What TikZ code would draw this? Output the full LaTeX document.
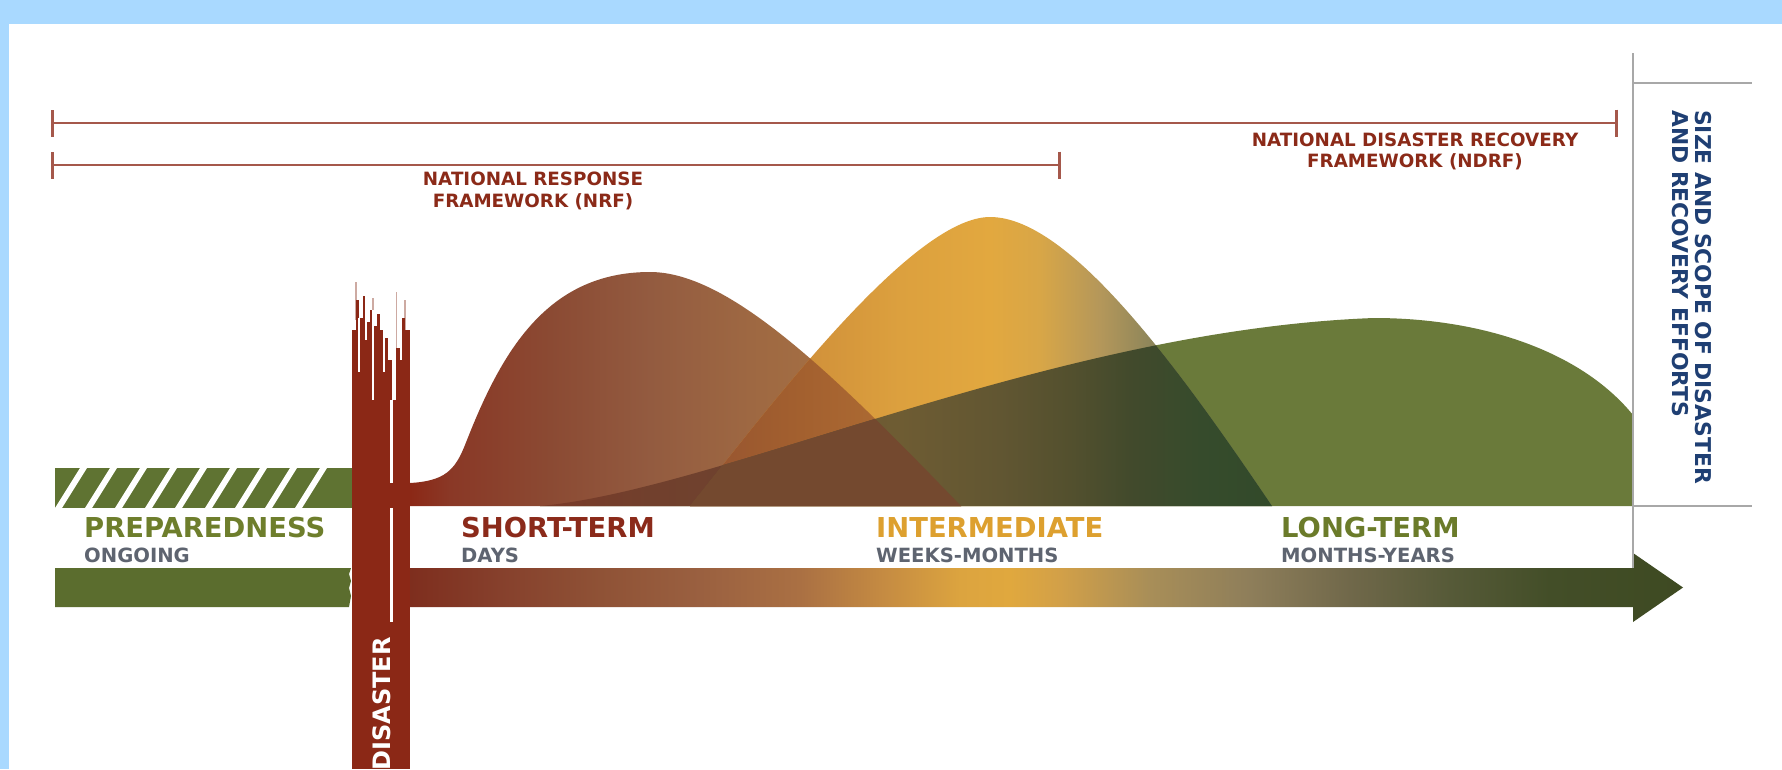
\documentclass[tikz,border=0pt]{standalone}
\usepackage{fontspec}
\newfontfamily\dv{DejaVu Sans}
\usetikzlibrary{arrows.meta}

\definecolor{skyb}{HTML}{A9D9FF}
\definecolor{brk}{HTML}{A5584B}
\definecolor{brtext}{HTML}{8B2A18}
\definecolor{sizeblue}{HTML}{1F3F73}
\definecolor{gline}{HTML}{A8A8A8}
\definecolor{prepgreen}{HTML}{6E7E2C}
\definecolor{hatchgreen}{HTML}{5F7332}
\definecolor{bargreen}{HTML}{5B6D2E}
\definecolor{disred}{HTML}{8B2816}
\definecolor{shortred}{HTML}{8B2A1A}
\definecolor{intgold}{HTML}{DDA02F}
\definecolor{longgreen}{HTML}{6B7B2A}
\definecolor{subgray}{HTML}{5E6470}
\definecolor{ggreen}{HTML}{6A7A3A}
\definecolor{pinkline}{HTML}{CDAAA2}
\definecolor{syg}{HTML}{74492F}
% arrow colours
\definecolor{ar0}{HTML}{7A2A1C}\definecolor{ar1}{HTML}{7E2E1E}
\definecolor{ar2}{HTML}{86402C}\definecolor{ar3}{HTML}{8F5236}
\definecolor{ar4}{HTML}{9A6040}\definecolor{ar5}{HTML}{AA7043}
\definecolor{ar6}{HTML}{C48A42}\definecolor{ar7}{HTML}{DCA43F}
\definecolor{ar8}{HTML}{E0A83E}\definecolor{ar9}{HTML}{D2A048}
\definecolor{ar10}{HTML}{A88E58}\definecolor{ar11}{HTML}{8E7E5A}
\definecolor{ar12}{HTML}{70684A}\definecolor{ar13}{HTML}{565A38}
\definecolor{ar14}{HTML}{434E28}\definecolor{ar15}{HTML}{3E4A22}
% short-term colours
\definecolor{s0}{HTML}{8B2816}\definecolor{s1}{HTML}{8A3826}
\definecolor{s2}{HTML}{8B4A33}\definecolor{s3}{HTML}{935B40}
\definecolor{s4}{HTML}{9E6842}\definecolor{s5}{HTML}{A97444}
\definecolor{s6}{HTML}{AC7848}
% intermediate colours
\definecolor{y0}{HTML}{C07A36}\definecolor{y1}{HTML}{D0903A}
\definecolor{y2}{HTML}{DCA03E}\definecolor{y3}{HTML}{E2A83F}
\definecolor{y4}{HTML}{D8A647}\definecolor{y5}{HTML}{B4975A}
\definecolor{y6}{HTML}{8E865A}\definecolor{y7}{HTML}{7C7A55}
% overlaps
\definecolor{sy0}{HTML}{955330}\definecolor{sy1}{HTML}{A3602F}
\definecolor{sy2}{HTML}{AE6C33}\definecolor{sy3}{HTML}{B37236}
\definecolor{sg0}{HTML}{7A3A28}\definecolor{sg1}{HTML}{71402D}
\definecolor{sg2}{HTML}{6D432F}\definecolor{sg3}{HTML}{714A32}
\definecolor{yg0}{HTML}{70542F}\definecolor{yg1}{HTML}{6E5C33}
\definecolor{yg2}{HTML}{615632}\definecolor{yg3}{HTML}{53502E}
\definecolor{yg4}{HTML}{424A2C}\definecolor{yg5}{HTML}{364B2C}
\definecolor{yg6}{HTML}{324A2A}

\pgfdeclarehorizontalshading{arrowsh}{100bp}{color(0bp)=(ar0); color(25bp)=(ar0); color(27.18bp)=(ar1); color(30.56bp)=(ar2); color(34.32bp)=(ar3); color(38.07bp)=(ar4); color(41.83bp)=(ar5); color(44.84bp)=(ar6); color(47.84bp)=(ar7); color(49.72bp)=(ar8); color(51.6bp)=(ar9); color(54.98bp)=(ar10); color(58.73bp)=(ar11); color(62.49bp)=(ar12); color(66.25bp)=(ar13); color(70bp)=(ar14); color(75bp)=(ar15); color(100bp)=(ar15)}
\pgfdeclarehorizontalshading{ssh}{100bp}{color(0bp)=(s0); color(25bp)=(s0); color(28.63bp)=(s1); color(37.7bp)=(s2); color(46.78bp)=(s3); color(55.85bp)=(s4); color(67.65bp)=(s5); color(75bp)=(s6); color(100bp)=(s6)}
\pgfdeclarehorizontalshading{ysh}{100bp}{color(0bp)=(y0); color(25bp)=(y0); color(34.45bp)=(y1); color(43.04bp)=(y2); color(50.77bp)=(y3); color(55.07bp)=(y4); color(60.22bp)=(y5); color(64.52bp)=(y6); color(75bp)=(y7); color(100bp)=(y7)}
\pgfdeclarehorizontalshading{sysh}{100bp}{color(0bp)=(sy0); color(25bp)=(sy0); color(34.45bp)=(sy1); color(43.04bp)=(sy2); color(48.28bp)=(sy3); color(100bp)=(sy3)}
\pgfdeclarehorizontalshading{sgsh}{100bp}{color(0bp)=(sg0); color(36.8bp)=(sg0); color(46.78bp)=(sg1); color(60.39bp)=(sg2); color(75bp)=(sg3); color(100bp)=(sg3)}
\pgfdeclarehorizontalshading{ygsh}{100bp}{color(0bp)=(yg0); color(25bp)=(yg0); color(43.04bp)=(yg1); color(51.63bp)=(yg2); color(57.65bp)=(yg3); color(62.8bp)=(yg4); color(68.81bp)=(yg5); color(75bp)=(yg6); color(100bp)=(yg6)}

\tikzset{
  lbl/.style={inner sep=0pt, anchor=base west, font=\dv\bfseries\fontsize{27.4}{30}\selectfont},
  sublbl/.style={inner sep=0pt, anchor=base west, text=subgray, font=\dv\bfseries\fontsize{19.6}{22}\selectfont},
  fw/.style={inner sep=0pt, anchor=base, text=brtext, font=\dv\bfseries\fontsize{18.3}{22}\selectfont},
  sz/.style={inner sep=0pt, anchor=base west, rotate=-90, text=sizeblue, font=\dv\bfseries\fontsize{21.8}{26}\selectfont},
  distext/.style={inner sep=0pt, anchor=base east, rotate=90, text=white, font=\dv\bfseries\fontsize{24}{28}\selectfont},
  bracket/.style={draw=brk, line width=2.8pt, {Bar[width=27pt]}-{Bar[width=27pt]}},
  grayline/.style={draw=gline, line width=2pt},
  thinpink/.style={draw=pinkline, line width=1.2pt},
  fringe/.style={draw=white, line width=1.1pt},
  whiteline/.style={draw=white, line width=2.5pt}
}

\def\hillS{(410,483) .. controls (445,481) and (455,470) .. (465,445) .. controls (500,355) and (545,272) .. (650,272) .. controls (728,272) and (830,370) .. (961,506) -- (410,506) -- cycle}
\def\hillY{(690,506) .. controls (760,420) and (910,217) .. (990,217) .. controls (1070,217) and (1180,370) .. (1272,506) -- cycle}
\def\hillG{(540,506) .. controls (720,490) and (1050,330) .. (1374,318) .. controls (1480,318) and (1580,350) .. (1633,415) -- (1633,506) -- cycle}

\begin{document}
\begin{tikzpicture}[x=1pt,y=-1pt]
\useasboundingbox (0,0) rectangle (1782,769);
\fill[white] (0,0) rectangle (1782,769);
\fill[skyb] (0,0) rectangle (1782,24);
\fill[skyb] (0,0) rectangle (9,769);

% framework brackets
\coordinate (ndrfL) at (51,123);
\coordinate (ndrfR) at (1618,123);
\coordinate (nrfL) at (51,165);
\coordinate (nrfR) at (1061,165);
\draw[bracket] (ndrfL) -- (ndrfR);
\draw[bracket] (nrfL) -- (nrfR);
\node[fw] (nrfA) at (533,185) {NATIONAL RESPONSE};
\node[fw] (nrfB) at (533,207) {FRAMEWORK (NRF)};
\node[fw] (ndrfA) at (1415,146) {NATIONAL DISASTER RECOVERY};
\node[fw] (ndrfB) at (1415,167) {FRAMEWORK (NDRF)};

% hills
\fill[ggreen] \hillG;
\shade[shading=ssh] \hillS;
\shade[shading=ysh] \hillY;
\begin{scope}
  \clip \hillS;
  \shade[shading=sysh] \hillY;
\end{scope}
\begin{scope}
  \clip \hillG;
  \shade[shading=sgsh] \hillS;
\end{scope}
\begin{scope}
  \clip \hillG;
  \shade[shading=ygsh] \hillY;
\end{scope}
\begin{scope}
  \clip \hillG;
  \clip \hillS;
  \fill[syg] \hillY;
\end{scope}

% preparedness hatched bar
\fill[hatchgreen] (55,468) rectangle (352,508);
\foreach \k in {0,...,8} {
  \fill[white] ({55+30*\k},508) -- ({62+30*\k},508) -- ({87+30*\k},468) -- ({80+30*\k},468) -- cycle;
}
% preparedness bar
\fill[bargreen] (55,568) -- (351,568) -- (349,574) -- (351,581) -- (349,588) -- (351,596) -- (349,607) -- (55,607) -- cycle;

% recovery arrow
\shade[shading=arrowsh] (352,568) -- (1633,568) -- (1633,553) -- (1683,587.5) -- (1633,622) -- (1633,607) -- (352,607) -- cycle;

% disaster column
\draw[thinpink] (356,282) -- (356,320);
\draw[thinpink] (373,298) -- (373,330);
\draw[thinpink] (396.5,292) -- (396.5,400);
\draw[thinpink] (405,300) -- (405,340);
\foreach \a/\b/\t in {352/356/330, 356/359/300, 359/363/318, 363/366/296, 366/370/322, 370/373/310, 373/377/326, 377/380/314, 380/384/330, 384/388/338, 388/392/360, 392/396/400, 396/401/348, 401/405/318, 405/410/330} {
  \fill[disred] (\a,\t) rectangle (\b,769);
}
\draw[fringe] (359,318) -- (359,372);
\draw[fringe] (366,296) -- (366,340);
\draw[fringe] (373,310) -- (373,400);
\draw[fringe] (384,330) -- (384,372);
\draw[fringe] (401,318) -- (401,360);
\draw[whiteline] (391.5,400) -- (391.5,483);
\draw[whiteline] (391.5,508) -- (391.5,622);
\node[distext] (dis) at (390,637) {DISASTER};

% size and scope frame
\coordinate (vtop) at (1633,53);
\coordinate (vbot) at (1633,568);
\coordinate (htl) at (1633,83);
\coordinate (htr) at (1752,83);
\coordinate (hbl) at (1633,506);
\coordinate (hbr) at (1752,506);
\draw[grayline] (vtop) -- (vbot);
\draw[grayline] (htl) -- (htr);
\draw[grayline] (hbl) -- (hbr);
\node[sz] (szA) at (1695,110) {SIZE AND SCOPE OF DISASTER};
\node[sz] (szB) at (1672,110) {AND RECOVERY EFFORTS};

% phase labels
\node[lbl, text=prepgreen] (prep) at (84,537) {PREPAREDNESS};
\node[sublbl] (prepS) at (84,562) {ONGOING};
\node[lbl, text=shortred] (short) at (461,537) {SHORT-TERM};
\node[sublbl] (shortS) at (461,562) {DAYS};
\node[lbl, text=intgold] (inter) at (876,537) {INTERMEDIATE};
\node[sublbl] (interS) at (876,562) {WEEKS-MONTHS};
\node[lbl, text=longgreen] (long) at (1281,537) {LONG-TERM};
\node[sublbl] (longS) at (1281,562) {MONTHS-YEARS};
\end{tikzpicture}
\end{document}
